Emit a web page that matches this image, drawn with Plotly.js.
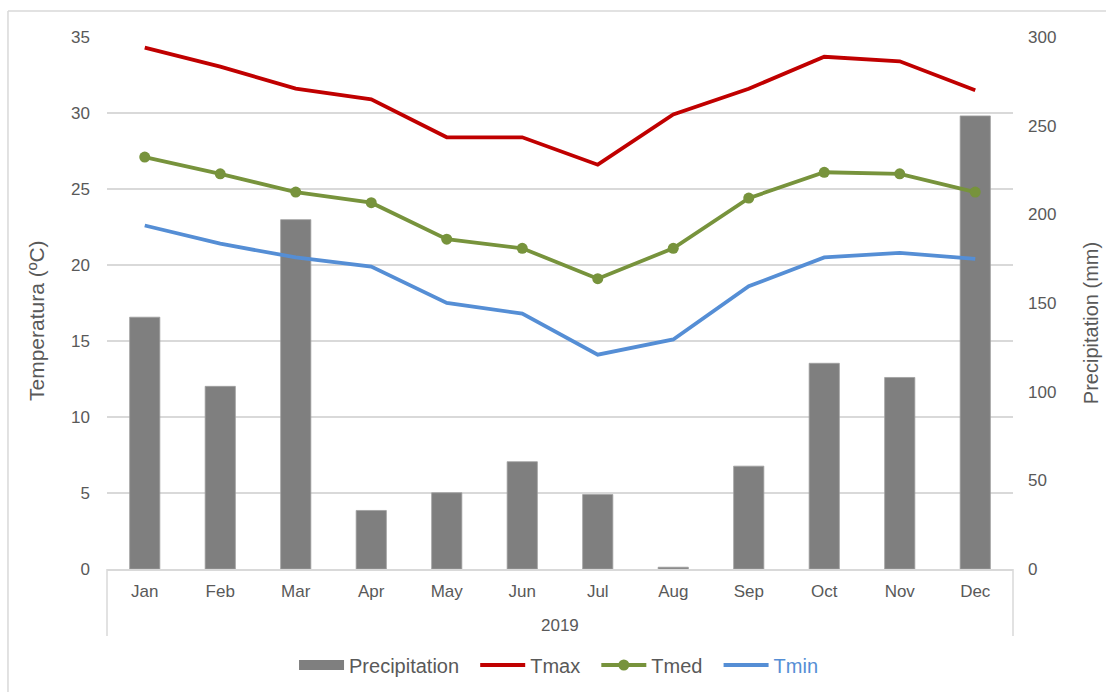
<!DOCTYPE html>
<html>
<head>
<meta charset="utf-8">
<script src="https://cdn.plot.ly/plotly-3.0.1.min.js"></script>
<style>html,body{margin:0;padding:0;background:#fff;}#chart{width:1106px;height:692px;}</style>
</head>
<body>
<div id="chart"></div>
<script>
const months = ["Jan","Feb","Mar","Apr","May","Jun","Jul","Aug","Sep","Oct","Nov","Dec"];
const precipitation = [142, 103, 197, 33, 43, 60.5, 42, 1, 58, 116, 108, 255.5];
const tmax = [34.3, 33.05, 31.6, 30.9, 28.4, 28.4, 26.6, 29.9, 31.6, 33.7, 33.4, 31.5];
const tmed = [27.1, 26.0, 24.8, 24.1, 21.7, 21.1, 19.1, 21.1, 24.4, 26.1, 26.0, 24.8];
const tmin = [22.6, 21.4, 20.5, 19.9, 17.5, 16.8, 14.1, 15.1, 18.6, 20.5, 20.8, 20.4];
const yearLabel = "2019";
const leftTitle = "Temperatura (ºC)";
const rightTitle = "Precipitation (mm)";

const txt = '#595959';
const grid = '#d9d9d9';
const font = 'Liberation Sans, Arial, sans-serif';
const pad = '\u00a0\u00a0';

const traces = [
  {type:'bar', name:'Precipitation', x:months, y:precipitation, yaxis:'y', showlegend:false,
   width:0.4, marker:{color:'#7f7f7f', line:{color:'#a0a0a0', width:0.8}}},
  // legend key for the bars (wide grey block as in the reference)
  {type:'scatter', mode:'lines', name:'Precipitation' + pad, x:[null], y:[null], yaxis:'y',
   line:{color:'#7f7f7f', width:10}},
  {type:'scatter', mode:'lines', name:'Tmax' + pad, x:months, y:tmax, yaxis:'y2',
   line:{color:'#c00000', width:3.8}},
  {type:'scatter', mode:'lines+markers', name:'Tmed' + pad, x:months, y:tmed, yaxis:'y2',
   line:{color:'#77933c', width:3.8}, marker:{color:'#77933c', size:11}},
  {type:'scatter', mode:'lines', name:'<span style="color:#558ed5">Tmin</span>', x:months, y:tmin, yaxis:'y2',
   line:{color:'#558ed5', width:3.8}}
];

const layout = {
  width:1106, height:692,
  margin:{l:107, r:93, t:37, b:123, autoexpand:false},
  paper_bgcolor:'#fff', plot_bgcolor:'#fff',
  font:{family:font, color:txt, size:17},
  showlegend:true,
  legend:{orientation:'h', xref:'container', x:0.505, xanchor:'center', yref:'container', y:0.039, yanchor:'middle',
          font:{size:20, color:txt}, traceorder:'normal', itemwidth:45},
  xaxis:{type:'category', range:[-0.5, 11.5], showline:true, linecolor:grid, linewidth:1.5,
         ticks:'', ticklabelstandoff:6, tickfont:{size:17, color:txt}, showgrid:false, zeroline:false,
         fixedrange:true},
  yaxis:{side:'right', range:[0,300], tickvals:[0,50,100,150,200,250,300], showgrid:false, zeroline:false,
         ticks:'', ticklabelstandoff:14, tickfont:{size:17, color:txt}},
  yaxis2:{overlaying:'y', side:'left', range:[0,35], tickvals:[0,5,10,15,20,25,30,35],
          showgrid:true, gridcolor:grid, gridwidth:1.5, zeroline:false, ticks:'', ticklabelstandoff:16,
          tickfont:{size:17, color:txt}},
  shapes:[
    {type:'line', xref:'paper', yref:'paper', x0:0, x1:0, y0:0, y1:-0.126, line:{color:grid, width:1.5}},
    {type:'line', xref:'paper', yref:'paper', x0:1, x1:1, y0:0, y1:-0.126, line:{color:grid, width:1.5}},
    {type:'line', xref:'paper', yref:'paper', x0:-0.1093, x1:1.11, y0:1.0489, y1:1.0489, line:{color:grid, width:1.5}},
    {type:'line', xref:'paper', yref:'paper', x0:-0.1093, x1:-0.1093, y0:1.0489, y1:-0.24, line:{color:grid, width:1.5}}
  ],
  annotations:[
    {text:yearLabel, xref:'paper', yref:'paper', x:0.5, y:-0.107, showarrow:false,
     xanchor:'center', yanchor:'middle', font:{size:17, color:txt}},
    {text:leftTitle, xref:'paper', yref:'paper', x:-0.0784, y:0.468, textangle:-90, showarrow:false,
     xanchor:'center', yanchor:'middle', font:{size:21, color:txt}},
    {text:rightTitle, xref:'paper', yref:'paper', x:1.086, y:0.462, textangle:-90, showarrow:false,
     xanchor:'center', yanchor:'middle', font:{size:20, color:txt}}
  ]
};

Plotly.newPlot('chart', traces, layout, {displayModeBar:false, staticPlot:true});
</script>
</body>
</html>
